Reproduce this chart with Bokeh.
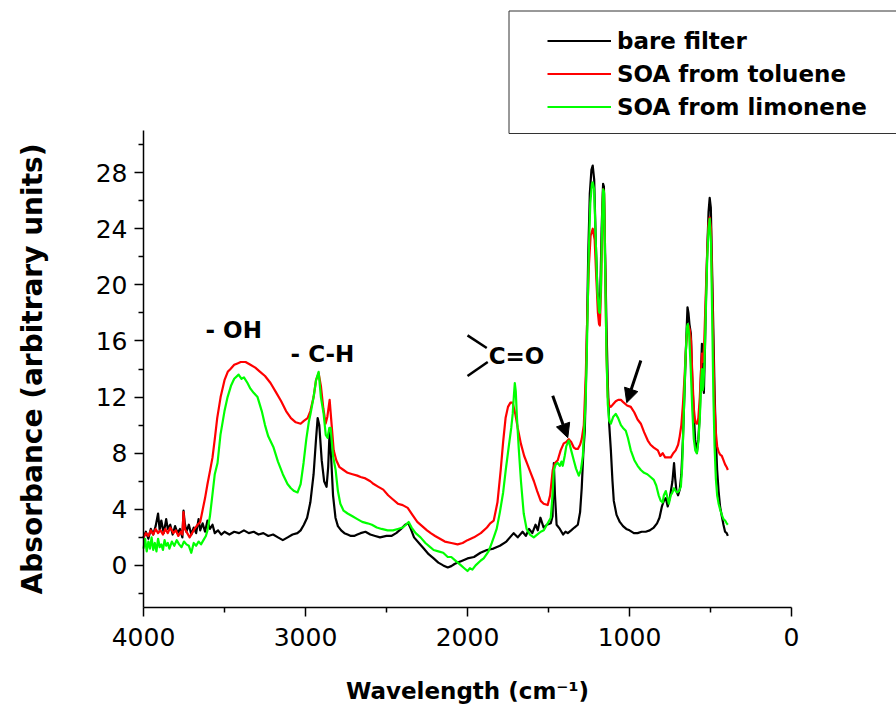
from bokeh.plotting import figure
from bokeh.models import (Range1d, Arrow, NormalHead, FixedTicker, LinearAxis,
                          Legend, LegendItem, BoxAnnotation)
from bokeh.core.properties import value
from bokeh.embed import file_html
from bokeh.resources import INLINE

# ---------- data ----------
bare_x = [4000, 3985, 3970, 3955, 3940, 3925, 3910, 3900, 3890, 3875, 3860, 3850, 3835, 3820,
          3805, 3790, 3775, 3760, 3753, 3745, 3735, 3720, 3705, 3690, 3675, 3660, 3650, 3635,
          3620, 3605, 3590, 3574, 3560, 3540, 3520, 3500, 3470, 3440, 3410, 3380, 3350, 3320,
          3290, 3260, 3230, 3200, 3170, 3140, 3110, 3080, 3050, 3030, 3010, 2990, 2970, 2950,
          2935, 2925, 2915, 2900, 2885, 2870, 2860, 2851, 2843, 2830, 2815, 2800, 2780, 2760,
          2740, 2720, 2700, 2680, 2660, 2630, 2600, 2570, 2540, 2500, 2470, 2440, 2410, 2385,
          2365, 2350, 2330, 2300, 2270, 2240, 2209, 2180, 2150, 2122, 2100, 2080, 2061, 2040,
          2000, 1960, 1920, 1880, 1840, 1800, 1760, 1715, 1690, 1660, 1640, 1620, 1600, 1580,
          1566, 1550, 1530, 1510, 1486, 1475, 1467, 1460, 1450, 1430, 1410, 1395, 1381, 1360,
          1340, 1319, 1305, 1295, 1285, 1276, 1265, 1255, 1245, 1235, 1227, 1218, 1208, 1198,
          1188, 1180, 1172, 1163, 1158, 1150, 1142, 1134, 1125, 1115, 1105, 1097, 1080, 1060,
          1040, 1020, 1000, 973, 950, 925, 900, 875, 850, 830, 815, 800, 788, 776, 764, 750,
          735, 725, 718, 710, 700, 690, 680, 670, 660, 650, 642, 636, 630, 621, 612, 603, 595,
          584, 575, 566, 558, 553, 547, 541, 535, 528, 520, 512, 505, 498, 490, 482, 475, 467,
          459, 450, 441, 430, 420, 410, 400, 393]
bare_y = [2.0, 2.4, 1.9, 2.6, 2.2, 2.8, 3.7, 2.5, 3.2, 2.3, 3.3, 2.6, 2.9, 2.2,
          2.8, 2.3, 2.6, 2.0, 3.9, 3.0, 2.4, 2.9, 2.2, 2.7, 2.3, 3.3, 2.5, 3.0,
          2.4, 3.2, 2.6, 2.9, 2.3, 2.5, 2.2, 2.4, 2.2, 2.4, 2.3, 2.5, 2.3, 2.4,
          2.2, 2.3, 2.1, 2.2, 2.0, 1.8, 2.0, 2.2, 2.3, 2.5, 2.9, 3.4, 4.5, 6.5,
          9.0, 10.5, 10.0, 7.5, 6.0, 5.6, 7.0, 9.6, 8.0, 5.0, 3.4, 2.8, 2.5, 2.3,
          2.2, 2.1, 2.1, 2.2, 2.3, 2.4, 2.2, 2.1, 2.0, 2.1, 2.1, 2.3, 2.6, 2.9,
          3.0, 2.6, 2.0, 1.6, 1.2, 0.8, 0.5, 0.2, 0.0, -0.15, -0.05, 0.1, 0.2, 0.3,
          0.5, 0.6, 0.9, 1.1, 1.2, 1.4, 1.7, 2.3, 2.0, 2.4, 2.1, 2.6, 2.3, 2.9,
          2.5, 3.4, 2.7, 2.9, 3.0, 3.5, 7.3, 5.0, 2.9, 2.6, 2.2, 2.4, 2.3, 2.5,
          2.7, 2.9, 3.8, 5.5, 8.0, 9.6, 15.0, 22.0, 26.5, 28.2, 28.5, 27.5, 23.0, 19.5,
          18.2, 19.5, 24.0, 27.2, 27.0, 22.0, 17.0, 13.0, 10.0, 8.2, 6.0, 4.6, 3.6, 3.1,
          2.8, 2.6, 2.5, 2.3, 2.3, 2.4, 2.4, 2.5, 2.7, 3.0, 3.4, 4.2, 4.6, 4.8, 4.2, 4.9,
          6.0, 7.3, 6.2, 5.3, 5.0, 5.4, 6.5, 9.0, 12.5, 16.0, 18.4, 18.0, 17.2, 16.5, 13.0, 10.8, 9.0,
          8.0, 9.0, 10.8, 14.0, 15.8, 14.5, 12.3, 15.0, 19.0, 22.5, 25.2, 26.2, 25.5, 21.0, 16.5, 12.5, 9.0,
          6.8, 5.3, 4.2, 3.5, 2.9, 2.4, 2.3, 2.1]

toluene_x = [4000, 3985, 3970, 3955, 3940, 3925, 3910, 3895, 3880, 3865, 3850, 3835, 3815, 3800,
             3785, 3770, 3760, 3753, 3745, 3730, 3715, 3700, 3685, 3666, 3650, 3636, 3620, 3605,
             3590, 3574, 3560, 3545, 3524, 3500, 3480, 3463, 3440, 3420, 3400, 3370, 3340, 3310,
             3280, 3250, 3216, 3180, 3150, 3120, 3090, 3060, 3030, 3010, 2987, 2970, 2950, 2935,
             2919, 2905, 2890, 2876, 2865, 2851, 2842, 2826, 2810, 2790, 2765, 2740, 2710, 2680,
             2660, 2630, 2600, 2579, 2550, 2520, 2490, 2460, 2430, 2400, 2369, 2340, 2310, 2280,
             2250, 2227, 2200, 2170, 2140, 2100, 2061, 2030, 2000, 1960, 1918, 1880, 1860, 1838,
             1815, 1795, 1780, 1765, 1750, 1735, 1721, 1705, 1690, 1671, 1650, 1630, 1610, 1590,
             1570, 1548, 1530, 1505, 1490, 1474, 1460, 1443, 1425, 1406, 1390, 1375, 1360, 1344,
             1330, 1319, 1305, 1295, 1282, 1270, 1260, 1250, 1240, 1227, 1215, 1205, 1195, 1188,
             1183, 1176, 1168, 1163, 1157, 1150, 1142, 1134, 1125, 1115, 1100, 1085, 1070, 1053,
             1035, 1015, 992, 970, 950, 930, 910, 887, 870, 850, 825, 810, 795, 780, 765, 745,
             730, 715, 700, 690, 680, 670, 660, 650, 642, 636, 628, 620, 612, 603, 594, 584,
             575, 566, 558, 553, 547, 540, 530, 520, 512, 505, 497, 490, 482, 475, 467, 459,
             450, 441, 430, 420, 410, 400, 393]
toluene_y = [2.0, 2.3, 2.1, 2.5, 2.2, 2.6, 2.3, 2.5, 2.2, 2.6, 2.3, 2.7, 2.3, 2.5,
             2.1, 2.4, 2.2, 3.8, 2.6, 2.3, 2.0, 2.3, 2.6, 2.9, 3.1, 3.9, 4.8, 5.8,
             6.7, 7.7, 9.0, 10.5, 12.0, 13.2, 13.8, 14.0, 14.3, 14.4, 14.5, 14.5, 14.3, 14.1,
             13.8, 13.5, 13.0, 12.3, 11.7, 11.0, 10.5, 10.2, 10.1, 10.3, 10.5, 11.0, 12.0, 13.2,
             13.7, 12.8, 11.2, 10.1, 10.6, 11.8, 10.5, 8.2, 7.5, 7.0, 6.8, 6.6, 6.5, 6.4,
             6.3, 6.2, 6.0, 5.8, 5.6, 5.4, 5.0, 4.7, 4.4, 4.3, 4.1, 3.6, 3.1, 2.8,
             2.5, 2.3, 2.1, 1.9, 1.7, 1.6, 1.5, 1.6, 1.8, 2.0, 2.3, 2.7, 3.0, 3.2,
             4.5, 6.8, 8.8, 10.5, 11.3, 11.6, 11.6, 10.8, 9.8, 8.7, 7.8, 7.2, 6.6, 6.0,
             5.3, 4.6, 4.4, 4.3, 5.0, 6.8, 7.3, 7.5, 8.2, 8.7, 8.8, 9.0, 8.8, 8.4,
             8.3, 8.3, 8.6, 9.0, 10.0, 13.5, 18.0, 21.5, 23.5, 24.0, 23.2, 20.5, 18.0, 17.2,
             17.1, 19.5, 24.5, 26.8, 26.5, 21.0, 15.0, 12.0, 11.4, 11.3, 11.5, 11.7, 11.8, 11.8,
             11.6, 11.4, 11.3, 10.9, 10.4, 10.1, 9.5, 8.9, 8.6, 8.4, 8.2, 7.8, 8.0, 7.7, 7.7, 7.7,
             8.0, 8.2, 8.6, 9.2, 10.0, 11.5, 13.5, 15.8, 17.0, 17.1, 16.8, 16.0, 13.5, 11.2, 10.2, 10.1,
             10.5, 12.0, 14.0, 15.1, 14.5, 15.5, 19.0, 22.5, 24.4, 24.8, 24.0, 20.0, 15.0, 11.5, 9.5, 8.5,
             8.1, 7.9, 7.8, 7.5, 7.2, 7.0, 6.8]

limonene_x = [4000, 3990, 3980, 3970, 3960, 3950, 3940, 3930, 3920, 3910, 3900, 3890, 3880, 3870,
              3860, 3850, 3840, 3825, 3810, 3795, 3780, 3765, 3750, 3735, 3720, 3705, 3690, 3675,
              3660, 3645, 3630, 3615, 3605, 3590, 3575, 3560, 3543, 3525, 3500, 3481, 3460, 3440,
              3413, 3395, 3380, 3358, 3340, 3320, 3296, 3270, 3250, 3230, 3197, 3170, 3140, 3111,
              3090, 3070, 3049, 3030, 3012, 2995, 2980, 2969, 2950, 2935, 2919, 2905, 2888, 2875,
              2864, 2853, 2845, 2830, 2814, 2800, 2785, 2765, 2740, 2710, 2680, 2650, 2617, 2590,
              2560, 2530, 2493, 2460, 2430, 2400, 2380, 2363, 2345, 2320, 2290, 2260, 2230, 2209,
              2180, 2150, 2122, 2100, 2080, 2060, 2040, 2020, 2000, 1985, 1970, 1950, 1918, 1900,
              1870, 1850, 1838, 1820, 1800, 1780, 1764, 1745, 1730, 1721, 1713, 1708, 1702, 1695,
              1684, 1670, 1653, 1635, 1615, 1591, 1570, 1548, 1529, 1510, 1486, 1475, 1467, 1455,
              1443, 1430, 1420, 1412, 1400, 1390, 1375, 1360, 1344, 1330, 1313, 1300, 1288, 1278,
              1270, 1262, 1252, 1242, 1232, 1227, 1218, 1208, 1198, 1188, 1183, 1176, 1168, 1163,
              1157, 1150, 1142, 1134, 1125, 1115, 1100, 1085, 1070, 1053, 1040, 1023, 1010, 992,
              970, 950, 930, 910, 890, 870, 850, 835, 820, 807, 795, 788, 776, 765, 757, 745,
              735, 725, 715, 705, 695, 683, 675, 665, 655, 645, 640, 632, 622, 612, 603, 594,
              584, 575, 566, 558, 553, 548, 544, 537, 528, 520, 512, 505, 497, 490, 482, 475,
              467, 459, 450, 441, 430, 420, 410, 400, 393]
limonene_y = [1.2, 1.9, 1.0, 1.7, 1.2, 2.0, 1.1, 1.6, 1.0, 1.9, 1.3, 1.5, 1.1, 1.8,
              1.4, 1.6, 1.2, 1.7, 1.4, 1.8, 1.5, 1.3, 1.7, 1.5, 1.4, 0.9, 1.6, 1.4,
              1.7, 1.5, 1.8, 2.1, 2.5, 3.5, 5.0, 6.5, 7.3, 9.3, 11.0, 12.0, 12.8, 13.3,
              13.6, 13.3, 13.4, 13.0, 12.6, 12.3, 12.0, 11.0, 10.0, 9.2, 8.4, 7.4, 6.5, 5.8,
              5.5, 5.3, 5.2, 5.8, 7.3, 9.0, 10.2, 10.8, 12.0, 13.2, 13.8, 12.0, 10.8, 9.3,
              9.1, 9.8, 9.8, 7.8, 6.8, 5.3, 4.4, 3.9, 3.7, 3.5, 3.3, 3.1, 3.0, 2.9,
              2.7, 2.6, 2.5, 2.5, 2.6, 2.7, 2.9, 3.1, 2.7, 2.3, 2.0, 1.6, 1.3, 1.1,
              1.0, 0.9, 0.6, 0.6, 0.4, 0.2, 0.0, -0.2, -0.4, -0.2, -0.3, 0.0, 0.35, 0.5,
              1.0, 1.6, 2.0, 2.6, 3.8, 5.2, 6.8, 8.5, 9.8, 10.8, 12.2, 13.0, 12.4, 10.6,
              8.4, 6.0, 3.7, 2.6, 2.2, 2.0, 2.2, 2.4, 2.5, 2.9, 3.4, 5.0, 6.8, 7.2,
              7.3, 7.1, 7.4, 7.1, 7.8, 8.5, 8.9, 8.2, 7.5, 6.9, 6.4, 6.8, 7.8, 10.0,
              12.0, 16.0, 22.0, 25.8, 27.2, 27.3, 26.8, 23.0, 19.5, 18.1, 18.0, 20.0, 25.0, 26.8,
              26.6, 21.0, 15.0, 11.5, 10.3, 10.1, 10.6, 10.8, 10.5, 10.0, 9.8, 9.6, 9.1, 8.2,
              7.5, 7.1, 6.8, 6.6, 6.5, 6.3, 6.1, 5.7, 5.0, 4.6, 4.5, 5.0, 5.3, 4.8, 4.4, 5.0,
              5.2, 5.5, 5.3, 5.2, 5.3, 5.6, 7.0, 10.8, 14.5, 17.0, 17.2, 16.5, 14.0, 11.0, 9.0, 8.2,
              8.0, 8.8, 10.5, 13.0, 14.0, 12.5, 12.8, 14.5, 18.5, 22.0, 24.0, 24.7, 23.0, 18.0, 12.0, 8.5,
              6.2, 5.0, 4.4, 4.0, 3.6, 3.3, 3.2, 3.0, 2.9]

series_names = ["bare filter", "SOA from toluene", "SOA from limonene"]
series_colors = ["#000000", "#ff0000", "#00ff00"]

x_ticks = [0, 1000, 2000, 3000, 4000]
x_minor = [500, 1500, 2500, 3500]
y_ticks = [0, 4, 8, 12, 16, 20, 24, 28]
y_minor = [-2, 2, 6, 10, 14, 18, 22, 26, 30]
x_lo, x_hi = 0, 4000
y_lo, y_hi = -3, 31

# ---------- figure ----------
# the frame fills the whole canvas so the legend above the axes is not clipped;
# the axes sit at fixed data positions, with the range padded to leave room
W, H = 896, 705
left, right, top, bottom = 143, 105, 130, 98
kx = (W - left - right) / (x_hi - x_lo)
ky = (H - top - bottom) / (y_hi - y_lo)
p = figure(width=W, height=H, min_border=0,
           x_range=Range1d(x_hi + left / kx, x_lo - right / kx),
           y_range=Range1d(y_lo - bottom / ky, y_hi + top / ky),
           x_axis_location=None, y_axis_location=None,
           output_backend="svg", toolbar_location=None)
p.outline_line_color = None
p.grid.visible = False

xaxis = LinearAxis(fixed_location=y_lo, bounds=(x_lo, x_hi),
                   ticker=FixedTicker(ticks=x_ticks, minor_ticks=x_minor),
                   axis_label="Wavelength (cm⁻¹)")
yaxis = LinearAxis(fixed_location=x_hi, bounds=(y_lo, y_hi),
                   ticker=FixedTicker(ticks=y_ticks, minor_ticks=y_minor),
                   axis_label="Absorbance (arbitrary units)")
for ax in (xaxis, yaxis):
    ax.axis_line_width = 1.5
    ax.major_tick_line_width = 1.5
    ax.minor_tick_line_width = 1.5
    ax.major_tick_in = 0
    ax.major_tick_out = 9
    ax.minor_tick_in = 0
    ax.minor_tick_out = 5
    ax.major_label_text_font = "DejaVu Sans"
    ax.major_label_text_font_size = "25px"
    ax.major_label_text_color = "black"
    ax.axis_label_text_font = "DejaVu Sans"
    ax.axis_label_text_font_style = "bold"
    ax.axis_label_text_color = "black"
xaxis.axis_label_text_font_size = "23px"
xaxis.major_label_standoff = 11
xaxis.axis_label_standoff = 29
yaxis.axis_label_text_font_size = "28px"
yaxis.major_label_standoff = 7
yaxis.axis_label_standoff = 44
p.add_layout(xaxis, "below")
p.add_layout(yaxis, "left")

# ---------- spectra ----------
renderers = []
for xs, ys, color in [(bare_x, bare_y, series_colors[0]),
                      (toluene_x, toluene_y, series_colors[1]),
                      (limonene_x, limonene_y, series_colors[2])]:
    renderers.append(p.line(xs, ys, line_color=color, line_width=2.2, line_join="round"))

# ---------- band labels ----------
bold = dict(text_font=value("DejaVu Sans"), text_font_style="bold",
            text_font_size="23px", text_color="black",
            text_align="left", text_baseline="middle")
p.text(x=[3617], y=[16.8], text=["- OH"], **bold)
p.text(x=[3092], y=[15.1], text=["- C-H"], **bold)
p.text(x=[1869], y=[14.9], text=["C=O"], **bold)
p.segment(x0=[2000, 2000], y0=[16.4, 13.5], x1=[1881, 1875], y1=[15.5, 14.5],
          line_color="black", line_width=2.5)

for xs0, ys0, xe, ye in [(1474, 12.1, 1381, 9.1), (930, 14.6, 1017, 11.6)]:
    p.add_layout(Arrow(end=NormalHead(size=14, fill_color="black", line_color="black"),
                       x_start=xs0, y_start=ys0, x_end=xe, y_end=ye,
                       line_width=3, line_color="black"))

# ---------- legend (box drawn separately so it can start further left) ----------
p.add_layout(BoxAnnotation(left=508.5, right=W + 20, top=H - 10.5, bottom=H - 133,
                           left_units="screen", right_units="screen",
                           top_units="screen", bottom_units="screen",
                           fill_color="white", fill_alpha=1.0,
                           line_color="#333333", line_alpha=1.0, line_width=1,
                           level="overlay"))
legend = Legend(items=[LegendItem(label=n, renderers=[r]) for n, r in zip(series_names, renderers)],
                location=(547, H - 123), padding=13, spacing=0,
                glyph_width=64, glyph_height=33, label_height=33, label_width=260,
                label_standoff=6,
                label_text_font="DejaVu Sans", label_text_font_style="bold",
                label_text_font_size="23px", label_text_baseline="middle",
                label_text_color="black",
                border_line_color=None, background_fill_alpha=0.0)
p.add_layout(legend, "center")

open("out.html", "w").write(file_html(p, INLINE))
